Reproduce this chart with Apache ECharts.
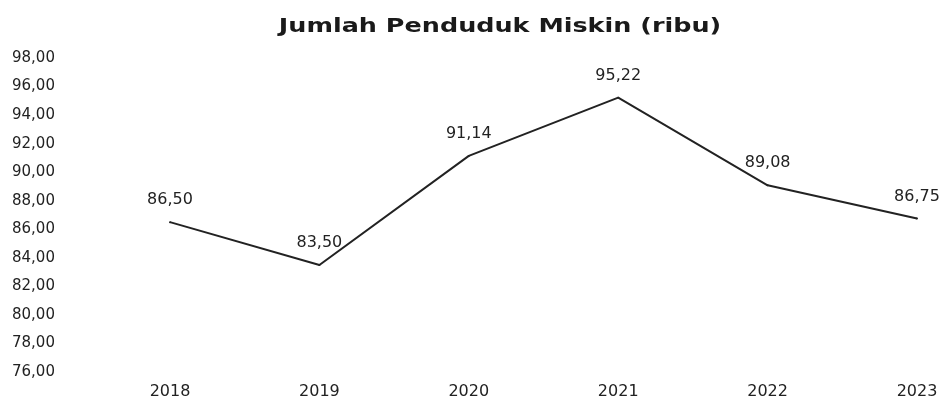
<!DOCTYPE html>
<html>
<head>
<meta charset="utf-8">
<script src="https://cdn.jsdelivr.net/npm/echarts@6/dist/echarts.min.js"></script>
<style>html,body{margin:0;padding:0;background:#fff}#c{width:947px;height:400px}</style>
</head>
<body>
<div id="c"></div>
<script>
var titleText = 'Jumlah Penduduk Miskin (ribu)';
var years = ['2018', '2019', '2020', '2021', '2022', '2023'];
var values = [86.50, 83.50, 91.14, 95.22, 89.08, 86.75];
var yMin = 76, yMax = 98, yStep = 2;

function fmt(v) { return v.toFixed(2).replace('.', ','); }

var font = 'DejaVu Sans';

var chart = echarts.init(document.getElementById('c'), null, {renderer: 'canvas'});
chart.setOption({
  backgroundColor: '#ffffff',
  animation: false,
  graphic: [{
    type: 'text',
    x: 500, y: 27,
    scaleX: 1.34,
    style: {
      text: titleText, x: 0, y: 0,
      align: 'center', verticalAlign: 'middle',
      font: 'bold 19px "DejaVu Sans"', fill: '#1a1a1a'
    }
  }],
  grid: {left: 170, right: 30, top: 58, bottom: 28},
  xAxis: {
    type: 'category',
    data: years,
    boundaryGap: false,
    axisLine: {show: false},
    axisTick: {show: false},
    splitLine: {show: false},
    axisLabel: {margin: 12, fontFamily: font, fontSize: 16, color: '#222'}
  },
  yAxis: {
    type: 'value',
    min: yMin, max: yMax, interval: yStep,
    axisLine: {show: false},
    axisTick: {show: false},
    splitLine: {show: false},
    axisLabel: {
      align: 'left', margin: 158,
      fontFamily: font, fontSize: 15, color: '#222',
      formatter: function (v) { return fmt(v); }
    }
  },
  series: [{
    type: 'line',
    data: values,
    symbol: 'circle',
    symbolSize: 2,
    showSymbol: true,
    itemStyle: {color: '#222'},
    lineStyle: {color: '#222', width: 2},
    label: {
      show: true, position: 'top', distance: 13,
      fontFamily: font, fontSize: 16, color: '#222',
      formatter: function (p) { return fmt(p.value); }
    }
  }]
});
</script>
</body>
</html>
